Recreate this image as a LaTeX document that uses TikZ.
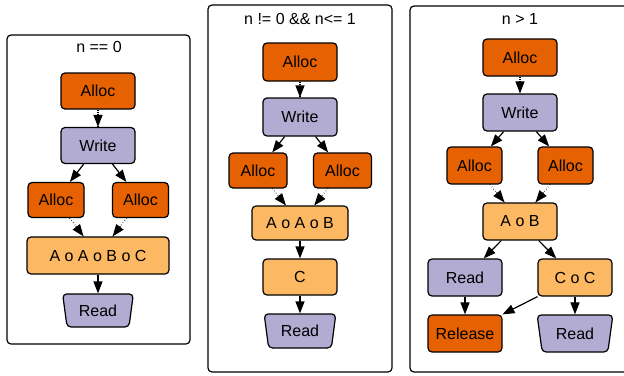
\documentclass[tikz,border=0pt]{standalone}
\usepackage{fontspec}
\setmainfont{Liberation Sans}
\usetikzlibrary{arrows.meta,shapes.geometric}
\definecolor{allocclr}{HTML}{E66101}
\definecolor{writeclr}{HTML}{B2ABD2}
\definecolor{mergeclr}{HTML}{FDB863}
\tikzset{
	op/.style={draw=black, line width=1.2pt, rounded corners=4pt, minimum width=74pt, minimum height=36pt, inner sep=0pt, font=\fontsize{16}{19}\selectfont},
	alloc/.style={op, fill=allocclr},
	write/.style={op, fill=writeclr},
	merge/.style={op, fill=mergeclr},
	readtrap/.style={op, fill=writeclr, trapezium, trapezium stretches=true, shape border rotate=180, trapezium angle=77, minimum width=72pt, minimum height=34pt},
	cluster/.style={draw=black, line width=1.2pt, rounded corners=4pt},
	cluslabel/.style={font=\fontsize{16}{19}\selectfont},
	flow/.style={line width=1.2pt, -{Triangle[length=12pt,width=9pt]}},
	dotline/.style={line width=1.2pt, dash pattern=on 0.4pt off 2.4pt}
}
\begin{document}
\begin{tikzpicture}[x=1pt, y=-1pt]
	%%%%% START %%%%%
	\useasboundingbox[fill=white] (0,0) rectangle (624,375);
	
	% n == 0
	\draw[cluster] (7,35) rectangle (190,344);
	\node[cluslabel] (t1) at (99,47) {n == 0};
	\node[alloc] (c1a) at (98,91) {Alloc};
	\node[write] (c1w) at (98,145.5) {Write};
	\node[alloc, minimum width=56pt, minimum height=35pt] (c1l) at (56,200) {Alloc};
	\node[alloc, minimum width=56pt, minimum height=35pt] (c1r) at (140.5,200) {Alloc};
	\node[merge, minimum width=142pt, minimum height=37pt] (c1m) at (98,255.5) {A o A o B o C};
	\node[readtrap, minimum width=71pt, minimum height=33pt] (c1rd) at (98,310.5) {Read};
	\draw[dotline] (c1a) -- (c1w) coordinate[pos=0.25] (c1aw);
	\draw[flow] (c1aw) -- (c1w);
	\draw[flow] (c1w) -- (c1l);
	\draw[flow] (c1w) -- (c1r);
	\draw[dotline] (c1l) -- (c1m) coordinate[pos=0.45] (c1lm);
	\draw[flow] (c1lm) -- (c1m);
	\draw[dotline] (c1r) -- (c1m) coordinate[pos=0.45] (c1rm);
	\draw[flow] (c1rm) -- (c1m);
	\draw[flow] (c1m) -- (c1rd);
	
	% n != 0 && n<= 1
	\draw[cluster] (208,5) rectangle (392,372);
	\node[cluslabel] (t2) at (300,19) {n != 0 \&\& n<= 1};
	\node[alloc, minimum height=38pt] (c2a) at (300,62) {Alloc};
	\node[write, minimum height=38pt] (c2w) at (300,117) {Write};
	\node[alloc, minimum width=58pt, minimum height=35pt] (c2l) at (258,170.5) {Alloc};
	\node[alloc, minimum width=58pt, minimum height=35pt] (c2r) at (342.5,170.5) {Alloc};
	\node[merge, minimum width=96pt, minimum height=34pt] (c2m) at (300,223) {A o A o B};
	\node[merge] (c2c) at (300,277) {C};
	\node[readtrap] (c2rd) at (300,331) {Read};
	\draw[dotline] (c2a) -- (c2w) coordinate[pos=0.25] (c2aw);
	\draw[flow] (c2aw) -- (c2w);
	\draw[flow] (c2w) -- (c2l);
	\draw[flow] (c2w) -- (c2r);
	\draw[dotline] (c2l) -- (c2m) coordinate[pos=0.45] (c2lm);
	\draw[flow] (c2lm) -- (c2m);
	\draw[dotline] (c2r) -- (c2m) coordinate[pos=0.45] (c2rm);
	\draw[flow] (c2rm) -- (c2m);
	\draw[flow] (c2m) -- (c2c);
	\draw[flow] (c2c) -- (c2rd);
	
	% n > 1
	\draw[cluster] (410,6) rectangle (640,372);
	\node[cluslabel] (t3) at (520,19) {n > 1};
	\node[alloc, minimum height=37pt] (c3a) at (520,57.5) {Alloc};
	\node[write, minimum height=37pt] (c3w) at (520,112.5) {Write};
	\node[alloc, minimum width=55pt, minimum height=37pt] (c3l) at (474.5,165.5) {Alloc};
	\node[alloc, minimum width=55pt, minimum height=37pt] (c3r) at (565.5,165.5) {Alloc};
	\node[merge, minimum height=37pt] (c3m) at (520,221.5) {A o B};
	\node[write, minimum height=37pt] (c3rd) at (465,277.5) {Read};
	\node[merge, minimum height=37pt] (c3cc) at (575,277.5) {C o C};
	\node[alloc, minimum height=37pt] (c3rel) at (465,333.5) {Release};
	\node[readtrap, minimum width=76pt, minimum height=37pt, trapezium angle=76] (c3rd2) at (575,333.5) {Read};
	\draw[dotline] (c3a) -- (c3w) coordinate[pos=0.25] (c3aw);
	\draw[flow] (c3aw) -- (c3w);
	\draw[flow] (c3w) -- (c3l);
	\draw[flow] (c3w) -- (c3r);
	\draw[dotline] (c3l) -- (c3m) coordinate[pos=0.45] (c3lm);
	\draw[flow] (c3lm) -- (c3m);
	\draw[dotline] (c3r) -- (c3m) coordinate[pos=0.45] (c3rm);
	\draw[flow] (c3rm) -- (c3m);
	\draw[flow] (c3m) -- (c3rd);
	\draw[flow] (c3m) -- (c3cc);
	\draw[flow] (c3rd) -- (c3rel);
	\draw[flow] (c3cc) -- (c3rel);
	\draw[flow] (c3cc) -- (c3rd2);
	
	%%%%% END %%%%%
\end{tikzpicture}
\end{document}
